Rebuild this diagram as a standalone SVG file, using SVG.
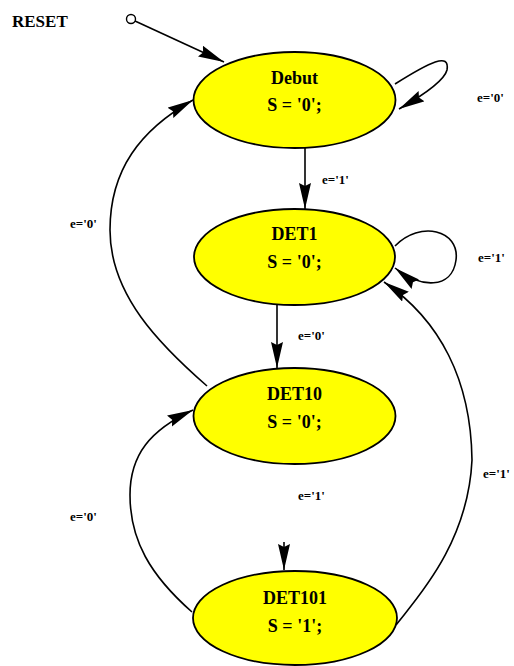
<svg xmlns="http://www.w3.org/2000/svg" width="514" height="666" viewBox="0 0 514 666">
<style>
.st{fill:#ffff00;stroke:#000;stroke-width:1.8}
.nt{font-family:"Liberation Serif",serif;font-weight:bold;font-size:18px;text-anchor:middle;fill:#000}
.lb{font-family:"Liberation Serif",serif;font-weight:bold;font-size:13px;fill:#000}
.cn{fill:none;stroke:#000;stroke-width:1.6}
</style>
<defs>
<marker id="ah" markerUnits="userSpaceOnUse" markerWidth="27" markerHeight="13" refX="26" refY="6" orient="auto">
<path d="M0,0 L26,6 L0,12 L3,6 z" fill="#000"/>
</marker>
</defs>
<rect width="514" height="666" fill="#fff"/>
<g id="reset">
<text x="12" y="27" class="lb" style="font-size:17px">RESET</text>
<circle cx="131" cy="19" r="4.5" fill="#fff" stroke="#000" stroke-width="1.4"/>
</g>
<g id="connectors">
<path class="cn" d="M135,21 L224,62" marker-end="url(#ah)"/>
<path class="cn" d="M395,84 C430,62 450,52 447,70 C444,82 420,97 399,109" marker-end="url(#ah)"/>
<path class="cn" d="M305,148 L305,209" marker-end="url(#ah)"/>
<path class="cn" d="M395,246 C420,220 460,230 456,260 C452,290 420,288 395,268" marker-end="url(#ah)"/>
<path class="cn" d="M277,305 L277,368" marker-end="url(#ah)"/>
<path class="cn" d="M207,386 C160,345 110,295 110,230 C110,170 140,130 193,100" marker-end="url(#ah)"/>
<path class="cn" d="M284,542 L284,570" marker-end="url(#ah)"/>
<path class="cn" d="M192,612 C150,575 130,540 130,495 C130,455 150,430 193,410" marker-end="url(#ah)"/>
<path class="cn" d="M396,625 C415,600 468,545 472,460 C471,380 440,320 384,282" marker-end="url(#ah)"/>
<text class="lb" x="477" y="102">e='0'</text>
<text class="lb" x="322" y="184">e='1'</text>
<text class="lb" x="478" y="262">e='1'</text>
<text class="lb" x="298" y="340">e='0'</text>
<text class="lb" x="70" y="228">e='0'</text>
<text class="lb" x="298" y="500">e='1'</text>
<text class="lb" x="70" y="521">e='0'</text>
<text class="lb" x="483" y="478">e='1'</text>
</g>
<g id="debut">
<ellipse class="st" cx="294.5" cy="100" rx="101" ry="48"/>
<text class="nt" x="294.5" y="84">Debut</text>
<text class="nt" x="294.5" y="111">S = '0';</text>
</g>
<g id="det1">
<ellipse class="st" cx="294.5" cy="257" rx="100.5" ry="48"/>
<text class="nt" x="294.5" y="240">DET1</text>
<text class="nt" x="294.5" y="268">S = '0';</text>
</g>
<g id="det10">
<ellipse class="st" cx="294.5" cy="416" rx="101" ry="48"/>
<text class="nt" x="294.5" y="400">DET10</text>
<text class="nt" x="294.5" y="428">S = '0';</text>
</g>
<g id="det101">
<ellipse class="st" cx="295" cy="618" rx="102" ry="47"/>
<text class="nt" x="295" y="604">DET101</text>
<text class="nt" x="295" y="632">S = '1';</text>
</g>
</svg>
